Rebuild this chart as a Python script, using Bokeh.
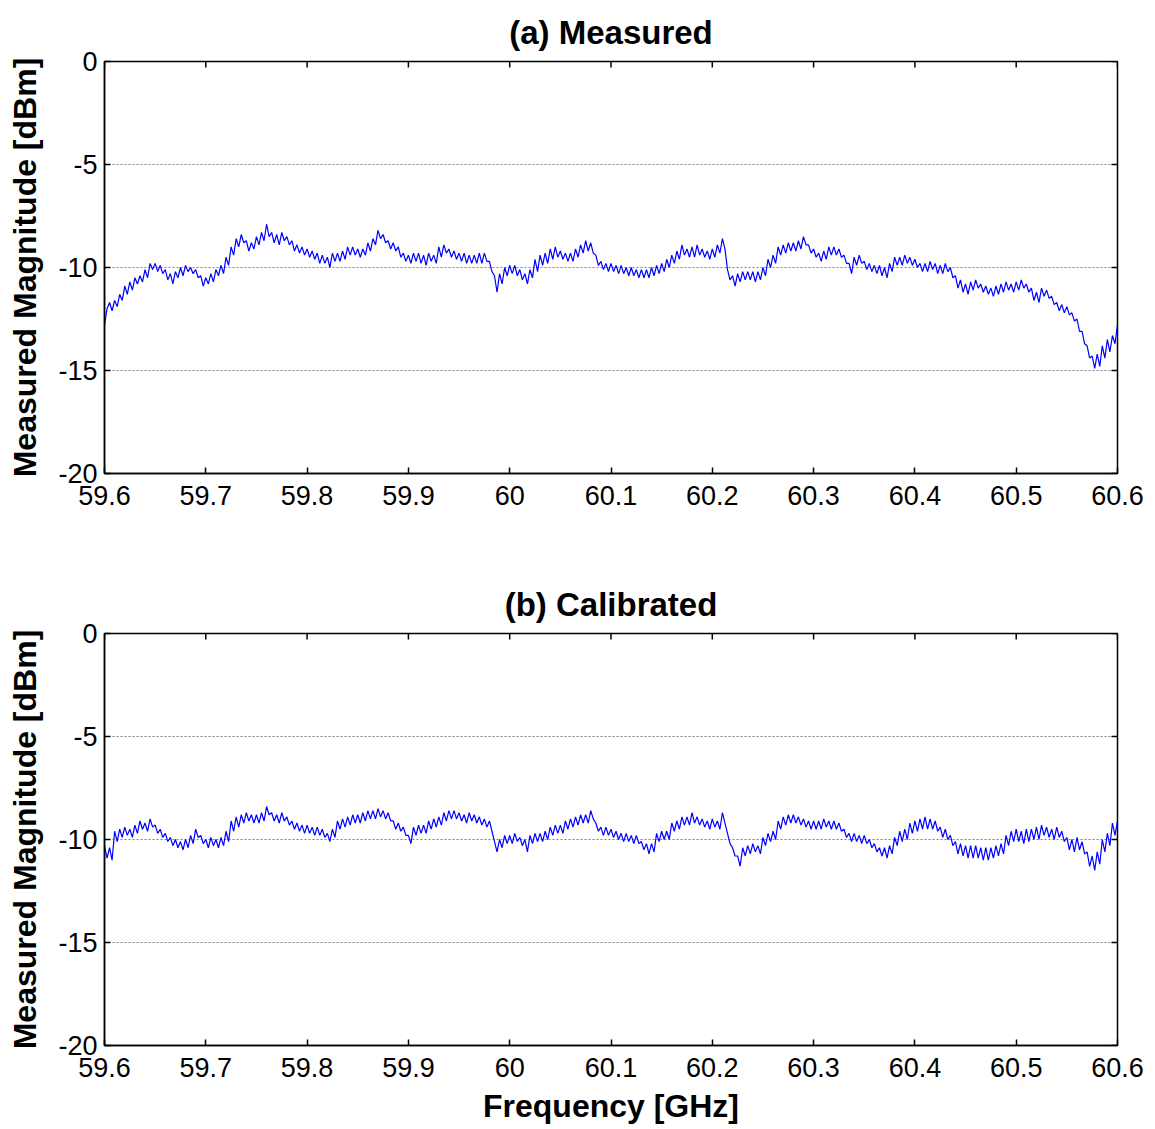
import numpy as np
from bokeh.plotting import figure
from bokeh.models import Range1d, FixedTicker, CustomJSTickFormatter, Title
from bokeh.layouts import column
from bokeh.embed import file_html
from bokeh.resources import INLINE

# ---------------- data ----------------
freq_start, freq_stop, n_points = 59.6, 60.6, 401
y_low, y_high = -20, 0
x_ticks = [59.6, 59.7, 59.8, 59.9, 60.0, 60.1, 60.2, 60.3, 60.4, 60.5, 60.6]
y_ticks = [-20, -15, -10, -5, 0]
grid_levels = [-15, -10, -5]

measured_db = [
    -12.8, -12.0, -11.7, -12.1, -11.6, -11.9, -11.3, -11.6, -10.9, -11.3, -10.7, -11.1, -10.5, -10.8, -10.4, -10.7, -10.1, -10.5, -9.8, -10.1,
    -9.8, -10.2, -9.9, -10.3, -10.1, -10.6, -10.3, -10.8, -10.2, -10.5, -10.0, -10.4, -9.9, -10.2, -10.0, -10.3, -10.1, -10.5, -10.4, -10.9,
    -10.5, -10.8, -10.3, -10.7, -10.1, -10.4, -9.9, -10.3, -9.5, -9.9, -9.0, -9.4, -8.6, -9.0, -8.4, -8.8, -8.7, -9.2, -8.8, -9.1,
    -8.5, -8.9, -8.3, -8.7, -7.9, -8.5, -8.3, -8.8, -8.4, -8.9, -8.3, -8.7, -8.5, -8.9, -8.7, -9.2, -8.9, -9.3, -9.0, -9.4,
    -9.1, -9.5, -9.2, -9.6, -9.3, -9.8, -9.4, -9.8, -9.5, -10.0, -9.3, -9.7, -9.3, -9.7, -9.2, -9.6, -9.0, -9.4, -9.0, -9.4,
    -9.1, -9.5, -9.1, -9.4, -8.8, -9.2, -8.6, -8.9, -8.2, -8.6, -8.4, -8.8, -8.7, -9.1, -8.8, -9.2, -9.0, -9.5, -9.3, -9.7,
    -9.4, -9.8, -9.3, -9.7, -9.3, -9.8, -9.4, -9.9, -9.3, -9.7, -9.4, -9.8, -9.0, -9.5, -8.9, -9.3, -9.1, -9.5, -9.2, -9.6,
    -9.3, -9.7, -9.3, -9.8, -9.4, -9.8, -9.4, -9.8, -9.3, -9.8, -9.3, -9.7, -9.7, -10.2, -10.4, -11.2, -10.3, -10.8, -10.0, -10.4,
    -9.9, -10.3, -9.9, -10.4, -10.1, -10.6, -10.3, -10.8, -10.1, -10.5, -9.6, -10.2, -9.4, -9.9, -9.3, -9.8, -9.1, -9.6, -9.0, -9.5,
    -9.2, -9.6, -9.3, -9.7, -9.3, -9.7, -9.1, -9.5, -8.9, -9.3, -8.7, -9.2, -8.8, -9.3, -9.4, -9.9, -9.7, -10.1, -9.8, -10.2,
    -9.8, -10.2, -9.9, -10.3, -9.9, -10.3, -10.0, -10.4, -10.0, -10.4, -10.1, -10.5, -10.1, -10.5, -10.1, -10.5, -10.0, -10.4, -9.9, -10.3,
    -9.8, -10.2, -9.6, -10.0, -9.4, -9.8, -9.2, -9.6, -8.9, -9.4, -9.1, -9.5, -9.0, -9.5, -8.9, -9.4, -9.1, -9.5, -9.2, -9.6,
    -9.1, -9.5, -8.9, -9.3, -8.6, -9.1, -10.1, -10.6, -10.4, -10.9, -10.3, -10.7, -10.2, -10.6, -10.2, -10.6, -10.2, -10.7, -10.2, -10.6,
    -10.0, -10.4, -9.6, -10.0, -9.4, -9.8, -9.0, -9.4, -8.9, -9.3, -8.8, -9.2, -8.8, -9.2, -8.7, -9.1, -8.5, -8.9, -8.9, -9.3,
    -9.1, -9.5, -9.3, -9.7, -9.2, -9.6, -9.0, -9.4, -9.0, -9.4, -9.1, -9.5, -9.4, -9.8, -9.8, -10.3, -9.5, -9.9, -9.4, -9.8,
    -9.7, -10.1, -9.8, -10.2, -9.9, -10.3, -9.9, -10.4, -10.0, -10.5, -9.8, -10.2, -9.5, -9.9, -9.5, -9.9, -9.4, -9.8, -9.5, -9.9,
    -9.6, -10.0, -9.8, -10.2, -9.8, -10.2, -9.7, -10.1, -9.8, -10.3, -9.9, -10.3, -9.8, -10.2, -10.0, -10.5, -10.4, -11.0, -10.6, -11.2,
    -10.8, -11.3, -10.7, -11.1, -10.6, -11.0, -10.8, -11.2, -10.9, -11.3, -11.0, -11.4, -10.9, -11.3, -10.8, -11.2, -10.7, -11.1, -10.8, -11.2,
    -10.7, -11.1, -10.6, -11.0, -10.8, -11.2, -11.0, -11.6, -11.2, -11.7, -11.0, -11.4, -11.1, -11.5, -11.4, -11.8, -11.7, -12.1, -11.8, -12.2,
    -11.9, -12.3, -12.2, -12.6, -12.5, -13.1, -13.1, -13.7, -13.8, -14.4, -14.3, -14.9, -14.2, -14.8, -13.8, -14.4, -13.5, -14.1, -13.3, -13.7,
    -12.8,
]

calibrated_db = [
    -10.3, -10.9, -10.4, -11.0, -9.6, -10.1, -9.5, -9.9, -9.4, -9.8, -9.5, -9.9, -9.3, -9.7, -9.1, -9.5, -9.2, -9.6, -9.0, -9.4,
    -9.3, -9.7, -9.5, -9.9, -9.7, -10.1, -9.9, -10.3, -10.0, -10.4, -10.1, -10.5, -10.0, -10.4, -9.8, -10.2, -9.5, -9.9, -9.8, -10.2,
    -10.0, -10.4, -9.9, -10.3, -10.0, -10.4, -9.9, -10.3, -9.6, -10.1, -9.1, -9.6, -8.9, -9.4, -8.8, -9.2, -8.7, -9.1, -8.8, -9.2,
    -8.8, -9.2, -8.7, -9.1, -8.4, -8.8, -8.7, -9.1, -8.8, -9.2, -8.7, -9.1, -8.9, -9.3, -9.1, -9.5, -9.2, -9.6, -9.3, -9.7,
    -9.3, -9.7, -9.4, -9.8, -9.4, -9.8, -9.5, -9.9, -9.7, -10.1, -9.5, -9.9, -9.1, -9.5, -9.0, -9.4, -8.9, -9.3, -8.8, -9.2,
    -8.8, -9.2, -8.7, -9.1, -8.6, -9.0, -8.6, -9.0, -8.5, -8.9, -8.6, -9.0, -8.7, -9.1, -9.1, -9.5, -9.2, -9.6, -9.4, -9.8,
    -9.8, -10.2, -9.4, -9.8, -9.3, -9.7, -9.3, -9.7, -9.1, -9.5, -9.0, -9.4, -8.9, -9.3, -8.7, -9.1, -8.6, -9.0, -8.6, -9.0,
    -8.7, -9.1, -8.8, -9.2, -8.7, -9.1, -8.8, -9.2, -8.9, -9.3, -9.0, -9.4, -9.1, -9.6, -10.1, -10.6, -10.0, -10.4, -9.8, -10.2,
    -9.8, -10.2, -9.7, -10.1, -9.9, -10.3, -10.0, -10.6, -9.8, -10.2, -9.7, -10.1, -9.7, -10.1, -9.6, -10.0, -9.4, -9.8, -9.3, -9.7,
    -9.3, -9.7, -9.1, -9.5, -9.0, -9.4, -8.9, -9.3, -8.8, -9.2, -8.8, -9.2, -8.6, -9.0, -9.2, -9.6, -9.4, -9.8, -9.4, -9.8,
    -9.5, -9.9, -9.6, -10.0, -9.7, -10.1, -9.7, -10.1, -9.8, -10.2, -9.8, -10.2, -10.1, -10.5, -10.2, -10.7, -10.2, -10.6, -9.7, -10.1,
    -9.6, -10.0, -9.6, -10.0, -9.2, -9.6, -9.1, -9.5, -8.9, -9.3, -8.9, -9.3, -8.7, -9.2, -8.9, -9.3, -9.0, -9.4, -9.1, -9.5,
    -9.0, -9.4, -9.1, -9.5, -8.7, -9.2, -9.7, -10.2, -10.4, -10.8, -10.8, -11.3, -10.4, -10.8, -10.3, -10.7, -10.2, -10.6, -10.3, -10.7,
    -9.9, -10.3, -9.7, -10.1, -9.6, -10.0, -9.1, -9.5, -8.9, -9.3, -8.8, -9.2, -8.8, -9.2, -8.9, -9.3, -9.0, -9.4, -9.1, -9.5,
    -9.1, -9.5, -9.1, -9.5, -9.0, -9.4, -9.1, -9.5, -9.1, -9.5, -9.2, -9.6, -9.5, -9.9, -9.7, -10.1, -9.7, -10.1, -9.8, -10.2,
    -9.8, -10.2, -10.0, -10.4, -10.2, -10.6, -10.4, -10.8, -10.4, -10.9, -10.3, -10.7, -9.9, -10.3, -9.6, -10.1, -9.5, -10.0, -9.2, -9.7,
    -9.1, -9.6, -9.0, -9.5, -8.9, -9.5, -9.0, -9.5, -9.1, -9.6, -9.4, -9.9, -9.5, -10.0, -9.8, -10.3, -10.1, -10.7, -10.2, -10.8,
    -10.3, -10.9, -10.3, -10.9, -10.3, -10.9, -10.4, -11.0, -10.4, -11.0, -10.4, -10.9, -10.3, -10.8, -10.2, -10.7, -9.8, -10.3, -9.6, -10.1,
    -9.5, -10.1, -9.6, -10.2, -9.5, -10.1, -9.5, -10.0, -9.4, -10.0, -9.3, -9.8, -9.4, -9.9, -9.5, -10.0, -9.4, -9.9, -9.6, -10.1,
    -9.9, -10.5, -10.0, -10.6, -9.9, -10.5, -10.1, -10.7, -10.6, -11.3, -10.8, -11.5, -10.6, -11.2, -10.0, -10.6, -9.7, -10.3, -9.2, -9.8,
    -9.1,
]

freq_ghz = np.linspace(freq_start, freq_stop, n_points)

FONT = "Liberation Sans"


def style_axis(ax):
    ax.major_tick_in = 6
    ax.major_tick_out = 0
    ax.minor_tick_in = 0
    ax.minor_tick_out = 0
    ax.axis_line_color = "black"
    ax.axis_line_width = 1.5
    ax.major_tick_line_color = "black"
    ax.major_tick_line_width = 1.5
    ax.major_label_text_font = FONT
    ax.major_label_text_font_size = "27px"
    ax.major_label_text_color = "black"
    ax.axis_label_text_font = FONT
    ax.axis_label_text_font_style = "bold"
    ax.axis_label_text_font_size = "32px"
    ax.axis_label_text_color = "black"


def make_panel(values, title_text, xlabel, top, bottom):
    p = figure(
        frame_width=1013, frame_height=412,
        x_range=Range1d(freq_start, freq_stop), y_range=Range1d(y_low, y_high),
        output_backend="svg", toolbar_location=None,
        min_border_left=104, min_border_right=38,
        min_border_top=top, min_border_bottom=bottom,
        background_fill_color="white", border_fill_color="white",
    )
    p.title = Title(text=title_text, align="center", text_font=FONT,
                    text_font_size="33px", text_font_style="bold",
                    text_color="black", standoff=22)
    p.line(freq_ghz, values, line_color="#0000FF", line_width=1.2)

    fmt_x = CustomJSTickFormatter(code="return (Math.round(tick*10)/10).toString();")
    fmt_y = CustomJSTickFormatter(code="return Math.round(tick).toString();")

    p.xaxis.ticker = FixedTicker(ticks=x_ticks)
    p.xaxis.formatter = fmt_x
    p.xaxis.major_label_standoff = 12
    p.yaxis.ticker = FixedTicker(ticks=y_ticks)
    p.yaxis.formatter = fmt_y
    p.yaxis.major_label_standoff = 7
    p.yaxis.axis_label = "Measured Magnitude [dBm]"
    p.yaxis.axis_label_standoff = 12
    if xlabel:
        p.xaxis.axis_label = xlabel
        p.xaxis.axis_label_standoff = 8
    for ax in p.xaxis + p.yaxis:
        style_axis(ax)

    # inward tick marks on the top and right edges of the box
    p.scatter(x_ticks, [y_high] * len(x_ticks), marker="dash", angle=np.pi / 2,
              size=12, line_color="black", line_width=1.5)
    p.scatter([freq_stop] * len(y_ticks), y_ticks, marker="dash",
              size=12, line_color="black", line_width=1.5)

    p.xgrid.visible = False
    p.ygrid.ticker = FixedTicker(ticks=grid_levels)
    p.ygrid.grid_line_color = "#808080"
    p.ygrid.grid_line_dash = "2 2"
    p.ygrid.grid_line_width = 1

    p.outline_line_color = "black"
    p.outline_line_width = 1.5
    p.outline_line_alpha = 1
    return p


p1 = make_panel(measured_db, "(a) Measured", None, 60, 88)
p2 = make_panel(calibrated_db, "(b) Calibrated", "Frequency [GHz]", 72, 84)

layout = column(p1, p2, spacing=0)
open("out.html", "w").write(file_html(layout, INLINE))
